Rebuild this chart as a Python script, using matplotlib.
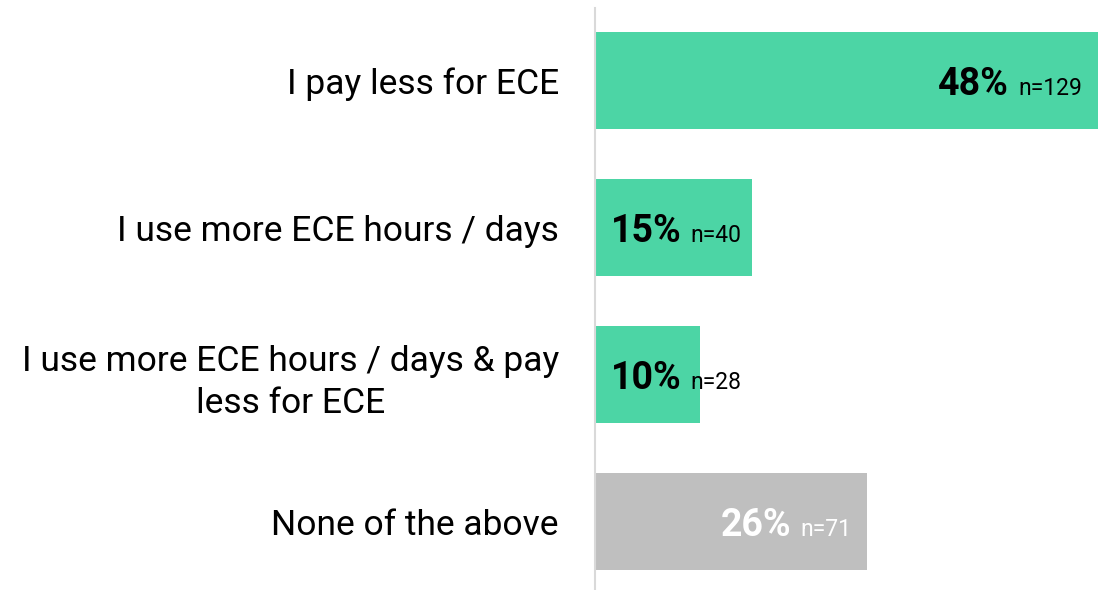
import matplotlib.pyplot as plt
from matplotlib.transforms import offset_copy

categories = ['I pay less for ECE',
              'I use more ECE hours / days',
              'I use more ECE hours / days & pay\nless for ECE',
              'None of the above']
percents = [48, 15, 10, 26]
counts = [129, 40, 28, 71]
colors = ['#4CD5A5', '#4CD5A5', '#4CD5A5', '#BFBFBF']
text_colors = ['black', 'black', 'black', 'white']

plt.rcParams['font.family'] = ['Roboto', 'DejaVu Sans']

fig = plt.figure(figsize=(11.01, 5.90), dpi=100)
ax = fig.add_axes([595 / 1101, 0.0, 503 / 1101, 582 / 590])

ypos = list(range(len(categories)))
ax.barh(ypos, percents, height=0.66, color=colors)
ax.set_xlim(0, 48)
ax.set_ylim(3.463, -0.493)
ax.set_xticks([])
ax.set_yticks(ypos)
ax.set_yticklabels(categories, fontsize=25.5, ha='right', multialignment='center',
                   linespacing=1.34)
ax.tick_params(axis='y', length=0, pad=26)
for s in ['top', 'right', 'bottom']:
    ax.spines[s].set_visible(False)
ax.spines['left'].set_color('#D9D9D9')
ax.spines['left'].set_linewidth(1.5)

fig.canvas.draw()
renderer = fig.canvas.get_renderer()

# value labels: bold percentage followed by the sample size, sharing a baseline
base = -14
for y, p, n, tc in zip(ypos, percents, counts, text_colors):
    if p >= 20:
        tr = offset_copy(ax.transData, fig=fig, x=-16, y=base, units='dots')
        t_n = ax.text(p, y, f'n={n}', transform=tr, ha='right', va='baseline',
                      fontsize=16.5, color=tc)
        bb = t_n.get_window_extent(renderer)
        tr2 = offset_copy(ax.transData, fig=fig, x=-16 - bb.width - 9, y=base, units='dots')
        ax.text(p, y, f'{p}%', transform=tr2, ha='right', va='baseline',
                fontsize=27, fontweight='bold', color=tc)
    else:
        tr = offset_copy(ax.transData, fig=fig, x=16, y=base, units='dots')
        t_p = ax.text(0, y, f'{p}%', transform=tr, ha='left', va='baseline',
                      fontsize=27, fontweight='bold', color=tc)
        bb = t_p.get_window_extent(renderer)
        tr2 = offset_copy(ax.transData, fig=fig, x=16 + bb.width + 9, y=base, units='dots')
        ax.text(0, y, f'n={n}', transform=tr2, ha='left', va='baseline',
                fontsize=16.5, color=tc)

fig.savefig('out.png', dpi=100)
